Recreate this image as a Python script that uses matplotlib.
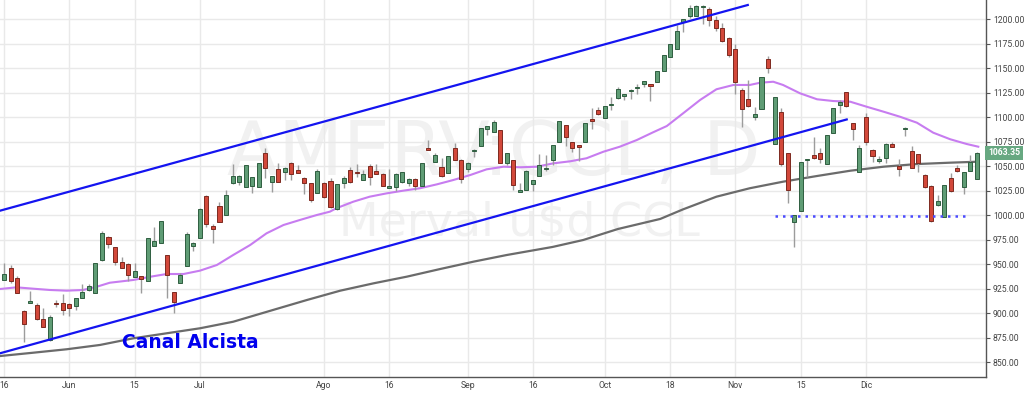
import matplotlib
matplotlib.use("Agg")
import matplotlib.pyplot as plt
import matplotlib.transforms as mtransforms
from matplotlib import font_manager as fm
import numpy as np

# daily candles (one per trading day)
opens = [933.7, 945.6, 935.4, 902.4, 909.9, 908.2, 893.6, 872.5, 910.0, 909.9,
         909.2, 907.5, 915.7, 923.5, 920.1, 954.1, 977.9, 967.0, 952.4, 949.7,
         937.0, 938.1, 933.0, 968.7, 971.8, 959.2, 921.1, 931.0, 948.3, 968.7,
         976.9, 1019.8, 989.2, 1009.2, 1000.4, 1032.3, 1033.3, 1028.9, 1029.9, 1028.2,
         1063.6, 1033.3, 1046.6, 1044.3, 1052.7, 1045.9, 1037.4, 1032.3, 1022.1, 1032.3,
         1034.7, 1005.8, 1033.0, 1045.9, 1044.2, 1035.7, 1050.0, 1044.9, 1041.5, 1027.9,
         1029.0, 1033.4, 1033.0, 1036.8, 1030.0, 1068.7, 1054.5, 1049.3, 1042.5, 1068.0,
         1056.2, 1046.6, 1065.3, 1070.8, 1087.4, 1084.4, 1086.8, 1052.7, 1056.2, 1023.8,
         1025.5, 1031.3, 1040.2, 1046.6, 1056.2, 1074.9, 1091.9, 1074.9, 1071.5, 1074.9,
         1097.6, 1107.2, 1099.3, 1111.9, 1119.8, 1121.8, 1126.6, 1129.9, 1133.4, 1133.7,
         1135.4, 1147.3, 1161.6, 1169.4, 1197.3, 1203.4, 1203.4, 1211.9, 1210.2, 1199.0,
         1190.5, 1181.0, 1169.4, 1127.6, 1118.4, 1100.4, 1107.9, 1158.9, 1072.1, 1105.5,
         1062.9, 993.0, 1004.5, 1056.0, 1061.3, 1062.9, 1052.1, 1084.0, 1112.3, 1125.2,
         1094.2, 1043.6, 1099.7, 1066.4, 1054.8, 1057.9, 1072.1, 1050.0, 1087.4, 1065.3,
         1062.3, 1040.8, 1030.0, 1010.2, 998.3, 1037.4, 1047.6, 1028.3, 1045.2, 1036.8]
highs = [950.7, 949.0, 938.0, 903.0, 922.8, 910.0, 904.8, 897.6, 913.0, 919.0,
         910.0, 915.7, 929.6, 929.6, 951.4, 984.0, 978.6, 967.7, 957.5, 950.7,
         950.7, 938.1, 976.2, 988.1, 993.9, 959.2, 921.8, 941.2, 982.3, 972.8,
         1006.8, 1020.4, 990.5, 1013.6, 1025.5, 1052.0, 1040.8, 1051.0, 1039.1, 1053.4,
         1068.0, 1039.8, 1052.7, 1049.3, 1053.7, 1051.0, 1039.1, 1033.0, 1046.6, 1033.3,
         1037.4, 1032.0, 1040.2, 1049.3, 1051.7, 1045.9, 1052.0, 1051.7, 1042.5, 1046.6,
         1042.5, 1044.2, 1038.1, 1037.4, 1052.7, 1076.6, 1063.6, 1057.9, 1060.2, 1073.2,
         1056.8, 1054.5, 1067.4, 1088.5, 1091.2, 1097.0, 1086.8, 1063.0, 1056.2, 1033.0,
         1045.9, 1035.7, 1062.3, 1061.3, 1071.5, 1096.3, 1091.9, 1074.9, 1071.5, 1093.6,
         1108.9, 1109.9, 1111.3, 1120.8, 1130.3, 1123.1, 1128.3, 1133.4, 1136.8, 1133.7,
         1147.3, 1163.3, 1174.2, 1193.9, 1199.7, 1214.3, 1214.3, 1214.3, 1212.6, 1203.1,
         1195.6, 1182.0, 1174.2, 1129.3, 1137.8, 1110.6, 1141.2, 1162.3, 1120.8, 1108.9,
         1062.9, 1000.0, 1053.8, 1056.8, 1079.9, 1068.0, 1081.6, 1108.9, 1117.4, 1125.2,
         1094.2, 1071.5, 1103.8, 1067.0, 1060.6, 1073.2, 1074.9, 1056.8, 1090.2, 1070.4,
         1062.3, 1041.5, 1030.6, 1020.4, 1030.6, 1042.5, 1051.0, 1044.2, 1061.3, 1064.0]
lows = [933.7, 930.3, 920.1, 870.1, 909.9, 892.9, 885.4, 871.8, 906.0, 898.0,
        897.3, 903.1, 915.7, 922.8, 920.1, 953.4, 966.7, 949.0, 946.3, 933.0,
        937.0, 920.1, 933.0, 968.7, 971.8, 915.0, 900.4, 930.3, 948.3, 963.6,
        976.9, 988.1, 971.8, 992.5, 1000.4, 1031.7, 1030.6, 1028.9, 1022.1, 1028.2,
        1037.4, 1023.8, 1033.3, 1035.7, 1035.7, 1042.5, 1021.1, 1013.6, 1022.1, 1017.0,
        1006.8, 1005.0, 1027.2, 1033.0, 1039.1, 1035.7, 1030.6, 1041.9, 1029.6, 1027.2,
        1024.9, 1032.3, 1029.6, 1025.5, 1030.0, 1066.7, 1054.5, 1039.1, 1042.5, 1056.2,
        1033.0, 1044.2, 1058.9, 1070.8, 1081.6, 1084.4, 1053.4, 1051.0, 1025.5, 1023.8,
        1025.5, 1024.9, 1040.2, 1044.9, 1051.0, 1074.9, 1070.8, 1064.7, 1055.1, 1074.9,
        1087.4, 1102.1, 1099.3, 1107.2, 1118.4, 1117.4, 1118.0, 1123.1, 1130.3, 1116.3,
        1135.4, 1147.3, 1161.6, 1169.4, 1187.1, 1200.7, 1203.1, 1194.9, 1193.2, 1188.1,
        1176.2, 1160.9, 1123.1, 1089.5, 1110.6, 1097.0, 1107.9, 1145.3, 1072.1, 1050.4,
        1012.0, 967.7, 1004.5, 1039.1, 1056.8, 1052.7, 1052.1, 1084.0, 1103.8, 1110.6,
        1076.6, 1043.6, 1071.5, 1054.5, 1052.7, 1052.7, 1069.1, 1040.2, 1080.6, 1047.6,
        1044.2, 1027.9, 993.2, 1009.2, 998.3, 1023.8, 1043.6, 1021.5, 1045.2, 1036.8]
closes = [939.8, 933.0, 920.8, 888.8, 912.3, 893.9, 886.1, 895.6, 909.0, 903.1,
          904.8, 915.0, 921.8, 927.6, 950.7, 981.3, 970.4, 952.4, 946.3, 938.8,
          942.9, 934.4, 976.2, 973.5, 993.9, 938.8, 910.9, 938.8, 980.6, 971.1,
          1005.8, 990.8, 985.8, 993.2, 1020.4, 1039.8, 1039.8, 1051.0, 1038.5, 1053.4,
          1047.6, 1039.8, 1034.0, 1048.3, 1041.5, 1043.2, 1032.3, 1015.3, 1045.2, 1018.7,
          1007.8, 1031.3, 1037.4, 1034.0, 1042.9, 1041.5, 1039.1, 1042.2, 1030.0, 1029.6,
          1041.5, 1044.2, 1036.4, 1029.6, 1052.7, 1066.7, 1061.3, 1040.2, 1060.2, 1056.2,
          1036.8, 1053.4, 1066.7, 1088.5, 1091.2, 1094.6, 1053.4, 1063.0, 1030.6, 1025.5,
          1045.2, 1035.7, 1051.0, 1047.6, 1071.5, 1096.3, 1079.3, 1068.7, 1069.1, 1093.6,
          1096.3, 1103.1, 1111.3, 1113.3, 1128.6, 1123.1, 1127.6, 1131.0, 1136.8, 1131.7,
          1147.3, 1163.3, 1174.2, 1187.8, 1199.7, 1211.6, 1213.3, 1213.3, 1199.0, 1190.5,
          1177.9, 1163.3, 1136.1, 1107.9, 1111.3, 1103.1, 1141.2, 1150.4, 1120.1, 1051.7,
          1025.5, 1000.0, 1053.8, 1056.6, 1057.9, 1056.8, 1081.6, 1108.9, 1115.7, 1111.3,
          1087.8, 1068.0, 1074.9, 1060.2, 1057.2, 1072.5, 1069.8, 1046.6, 1088.1, 1048.3,
          1052.7, 1028.9, 994.3, 1014.3, 1030.6, 1024.9, 1044.9, 1044.2, 1054.5, 1063.35]

# moving averages, sampled from the chart (bar index, price)
ma_fast_idx = [-0.6, 1.9, 4.5, 7, 9.6, 12.1, 14.2, 16.2, 19.8, 22.4, 24.9, 27.5, 30,
               32.6, 35.1, 37.7, 40.2, 42.8, 45.3, 47.9, 49.9, 50.9, 53.5, 56, 58.6,
               61.1, 63.7, 66.3, 68.8, 71.4, 73.9, 76.5, 79, 81.6, 84.1, 86.7, 89.2,
               91.8, 94.3, 96.9, 99.4, 101.5, 104, 106.6, 109.1, 111.7, 114.2, 115.8,
               117.8, 119.3, 121.9, 124.5, 127, 129.6, 132.1, 134.7, 137.2, 139.8,
               142.3, 144.9, 147.4, 149.2]
ma_fast_val = [924.5, 926.2, 924.8, 923.5, 922.8, 923.5, 926.8, 930.9, 933.7, 937.0,
               939.8, 939.8, 943.2, 949.0, 959.2, 969.4, 981.3, 989.8, 994.9, 1000.0,
               1003.4, 1006.9, 1013.6, 1018.7, 1022.1, 1024.8, 1027.3, 1031.3, 1035.7,
               1040.8, 1046.6, 1049.3, 1048.7, 1049.3, 1052.7, 1054.8, 1057.9, 1064.6,
               1069.7, 1076.5, 1084.4, 1090.8, 1103.8, 1117.4, 1128.3, 1132.7, 1132.7,
               1135.0, 1136.0, 1132.7, 1124.2, 1118.1, 1116.3, 1115.6, 1110.5, 1105.4,
               1100.3, 1094.2, 1084.0, 1077.3, 1072.5, 1069.7]
ma_slow_idx = [-0.6, 4.5, 9.6, 14.7, 19.8, 24.9, 30, 35.1, 41.2, 46.4, 51.5, 56.6,
               61.7, 66.8, 71.9, 77, 84, 88.7, 94, 100.5, 104, 109.1, 114.2, 119.3,
               124.5, 129.6, 134.7, 139.8, 144.9, 149.2]
ma_slow_val = [856.1, 859.5, 863.0, 867.4, 874.2, 879.3, 884.4, 891.1, 903.1, 913.3,
               922.8, 930.3, 937.1, 944.9, 952.4, 959.2, 967.4, 974.5, 985.7, 996.0,
               1005.8, 1018.7, 1027.3, 1034.0, 1039.8, 1045.2, 1049.3, 1052.0, 1053.4,
               1054.4]

# drawn lines: channel and support
upper_idx = [-0.61, 113.9]
upper_val = [1004.4, 1214.3]
lower_idx = [-0.61, 129.05]
lower_val = [858.9, 1097.5]
support_idx = [118.1, 147.5]
support_val = [999.0, 999.0]

date_ticks = [0, 10, 20, 30, 49, 59, 71, 81, 92, 102, 112, 122, 132]
date_labels = ["16", "Jun", "15", "Jul", "Ago", "16", "Sep", "16", "Oct", "18",
               "Nov", "15", "Dic"]
price_ticks = list(range(850, 1201, 25))

names = {f.name for f in fm.fontManager.ttflist}
if "Liberation Sans Narrow" in names:
    tick_font, tick_size = "Liberation Sans Narrow", 7.3
elif "Roboto" in names:
    tick_font, tick_size = "Roboto", 6.2
else:
    tick_font, tick_size = "DejaVu Sans", 5.6

fig = plt.figure(figsize=(10.24, 3.93), dpi=100)
ax = fig.add_axes([0, 16 / 393, 986 / 1024, 377 / 393])

o = np.array(opens)
h = np.array(highs)
l = np.array(lows)
c = np.array(closes)
x = np.arange(len(o))
up = c >= o

# watermark
ax.text(0.501, 0.589, "AMERV:CCL, D", transform=ax.transAxes, ha="center", va="center",
        fontsize=54, color="#f1f1f1", zorder=0.5)
ax.text(0.527, 0.406, "Merval u$d CCL", transform=ax.transAxes, ha="center", va="center",
        fontsize=33, color="#f1f1f1", zorder=0.5)

ax.plot(ma_slow_idx, ma_slow_val, color="#6b6b6b", lw=1.6, zorder=2)
ax.plot(ma_fast_idx, ma_fast_val, color="#c77cf0", lw=1.5, zorder=2)

ax.vlines(x, l, h, color="#9c9c9c", lw=1, zorder=3)
body_bottom = np.minimum(o, c)
body_height = np.maximum(np.abs(c - o), 1.2)
face = np.where(up, "#5f9c75", "#d2483a")
edge = np.where(up, "#2f5e40", "#7d2a20")
ax.bar(x, body_height, bottom=body_bottom, width=0.62, color=face, edgecolor=edge,
       linewidth=0.7, zorder=4)

ax.plot(upper_idx, upper_val, color="#1414f0", lw=1.6, zorder=5)
ax.plot(lower_idx, lower_val, color="#1414f0", lw=1.6, zorder=5)
ax.plot(support_idx, support_val, color="#4a4aff", lw=1.8, linestyle=(0, (1, 2)), zorder=5)

ax.text(0.1927, 0.0928, "Canal Alcista", transform=ax.transAxes, ha="center", va="center",
        fontsize=13.5, fontweight="bold", color="#0000ee", zorder=6)

ax.set_xlim(-0.613, 150.38)
ax.set_ylim(834.7, 1219.4)

ax.set_xticks(date_ticks)
ax.set_xticklabels(date_labels)
ax.set_yticks(price_ticks)
ax.set_yticklabels([f"{p:.2f}" for p in price_ticks])
ax.yaxis.tick_right()
ax.grid(True, color="#e9e9e9", lw=1, zorder=0)
ax.set_axisbelow(True)

for side in ["top", "left"]:
    ax.spines[side].set_visible(False)
for side in ["right", "bottom"]:
    ax.spines[side].set_color("#555555")
    ax.spines[side].set_linewidth(1)

ax.tick_params(axis="y", length=3, pad=2, color="#555555", labelcolor="#444444",
               labelsize=tick_size)
ax.tick_params(axis="x", length=0, pad=3, labelcolor="#444444", labelsize=tick_size)
for lab in ax.get_xticklabels() + ax.get_yticklabels():
    lab.set_fontfamily(tick_font)

# last price tag
trans = mtransforms.blended_transform_factory(ax.transAxes, ax.transData)
ax.text(1.002, closes[-1], f"{closes[-1]:.2f}", transform=trans, ha="left", va="center",
        fontsize=tick_size, fontweight="bold", color="white", family=tick_font,
        bbox=dict(boxstyle="square,pad=0.3", fc="#67a881", ec="none"), clip_on=False,
        zorder=10)

fig.savefig("out.png", dpi=100)
